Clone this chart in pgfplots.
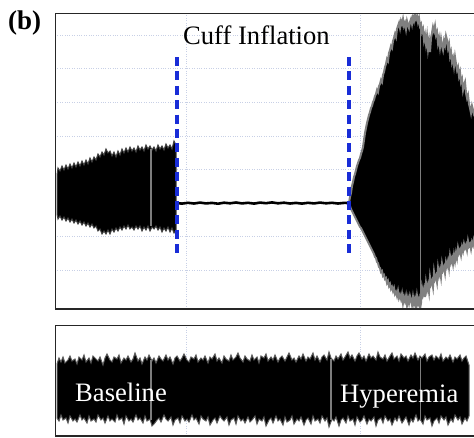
\documentclass[border=0pt]{standalone}
\usepackage{pgfplots}
\pgfplotsset{compat=1.18}
\usepackage{fontspec}
\setmainfont{Liberation Serif}
\definecolor{dashblue}{RGB}{25,45,215}
\definecolor{gridc}{RGB}{200,208,230}
\definecolor{gapc}{RGB}{125,125,125}
\begin{document}
\begin{tikzpicture}
\pgfplotsset{
  panel/.style={
    scale only axis, width=419pt, xmin=55, xmax=474, y dir=reverse,
    anchor=south west,
    axis line style={draw=none},
    xtick={186.5,360.5}, xticklabels={}, yticklabels={},
    major tick length=0pt,
    grid style={dotted, line width=0.8pt, color=gridc},
  }
}
\path[use as bounding box] (0pt,0pt) rectangle (474pt,437pt);
% ---------------- top panel ----------------
\begin{axis}[panel, at={(55pt,128pt)}, height=296pt, ymin=13, ymax=309,
  ytick={35,68.5,102,136,169.5,203,236.5,270}, grid=major]
% baseline block
\addplot[fill=black, draw=black!75, line width=1pt] coordinates {
(57,175) (58,168) (60,171) (62,166) (64,170) (66,165) (68,169) (70,164) (72,168) (74,163) (76,167) (78,162) (80,166) (82,161) (84,165) (86,160) (88,164) (90,158) (92,162) (94,157) (96,160) (98,154) (100,157) (102,152) (104,155) (106,149) (108,153) (110,151) (112,156) (114,152) (116,157) (118,151) (120,155) (122,149) (124,153) (126,148) (128,152) (130,147) (132,151) (134,148) (136,152) (138,146) (140,150) (142,147) (144,151) (146,145) (148,149) (150,146) (152,150) (154,147) (156,151) (158,145) (160,149) (162,146) (164,150) (166,144) (168,148) (170,145) (172,149) (174,141) (176,145)
(176,230) (174,233) (172,228) (170,232) (168,227) (166,231) (164,228) (162,232) (160,227) (158,230) (156,226) (154,229) (152,227) (150,231) (148,226) (146,230) (144,227) (142,231) (140,226) (138,229) (136,226) (134,230) (132,227) (130,229) (128,225) (126,229) (124,226) (122,230) (120,227) (118,231) (116,228) (114,232) (112,229) (110,234) (108,230) (106,234) (104,231) (102,234) (100,229) (98,231) (96,226) (94,228) (92,224) (90,227) (88,223) (86,226) (84,222) (82,225) (80,221) (78,224) (76,220) (74,223) (72,219) (70,222) (68,218) (66,221) (64,217) (62,220) (60,216) (58,219) (57,214)
} -- cycle;
% flat cuff inflation trace
\addplot[black, line width=2.6pt] coordinates {
(176,203) (182,203.6) (188,202.8) (194,203.5) (200,202.6) (206,203.4) (212,202.9) (218,203.7) (224,202.7) (230,203.3) (236,202.5) (242,203.4) (248,202.8) (254,203.6) (260,202.6) (266,203.2) (272,202.4) (278,203.3) (284,202.7) (290,203.5) (296,202.9) (302,203.6) (308,202.8) (314,203.4) (320,202.6) (326,203.3) (332,202.8) (338,203.5) (344,202.9) (349,203)
};
% hyperemia burst
\addplot[fill=black, draw=black!50, line width=2pt] coordinates {
(349,203) (350,197) (351,193) (352,186) (353,182) (354,177) (355,174) (356,170) (357,166) (358,163) (359,160) (360,158) (361,154) (362,151) (363,147) (364,140) (365,133) (366,128) (367,123) (368,119) (369,115) (370,112) (371,108) (372,106) (373,102) (374,100) (375,96) (376,94) (377,90) (378,92) (379,86) (380,84) (381,80) (382,82) (383,75) (384,72) (385,67) (386,64) (387,59) (388,61) (389,53) (390,50) (391,46) (392,48) (393,41) (394,38) (395,34) (396,37) (397,29) (398,26) (399,23) (400,28) (401,21) (402,24) (403,19) (404,26) (405,23) (406,29) (407,21) (408,25) (409,28) (410,22) (411,19) (412,24) (413,17) (414,21) (415,15) (416,19) (417,16) (418,22) (419,18) (420,26) (421,24) (422,32) (423,29) (424,40) (425,35) (426,44) (427,36) (428,49) (429,41) (430,52) (431,38) (432,33) (433,27) (434,31) (435,26) (436,35) (437,32) (438,43) (439,38) (440,47) (441,39) (442,46) (443,50) (444,41) (445,45) (446,36) (447,40) (448,48) (449,44) (450,56) (451,52) (452,62) (453,58) (454,66) (455,57) (456,64) (457,70) (458,67) (459,76) (460,72) (461,82) (462,79) (463,90) (464,85) (465,82) (466,93) (467,98) (468,95) (469,104) (470,108) (471,113) (472,106) (473,110) (474,115) (476,118) (480,120)
(480,241) (476,244) (474,239) (473,245) (472,242) (471,249) (470,244) (469,246) (468,241) (467,250) (466,245) (465,248) (464,244) (463,251) (462,247) (461,255) (460,250) (459,253) (458,248) (457,258) (456,253) (455,261) (454,255) (453,264) (452,258) (451,262) (450,256) (449,268) (448,261) (447,266) (446,262) (445,273) (444,267) (443,270) (442,264) (441,277) (440,270) (439,275) (438,268) (437,282) (436,276) (435,279) (434,272) (433,287) (432,281) (431,284) (430,277) (429,292) (428,285) (427,290) (426,283) (425,297) (424,289) (423,294) (422,288) (421,303) (420,309) (419,299) (418,303) (417,296) (416,306) (415,299) (414,304) (413,297) (412,305) (411,300) (410,296) (409,303) (408,298) (407,305) (406,296) (405,301) (404,297) (403,303) (402,294) (401,299) (400,295) (399,298) (398,291) (397,296) (396,292) (395,294) (394,288) (393,291) (392,287) (391,289) (390,284) (389,286) (388,281) (387,283) (386,278) (385,279) (384,275) (383,276) (382,271) (381,272) (380,268) (379,267) (378,263) (377,262) (376,258) (375,257) (374,254) (373,252) (372,250) (371,248) (370,246) (369,244) (368,242) (367,240) (366,238) (365,236) (364,234) (363,232) (362,230) (361,228) (360,227) (359,225) (358,223) (357,221) (356,219) (355,217) (354,215) (353,213) (352,211) (351,209) (350,206) (349,203)
} -- cycle;
% gaps in the recording
\addplot[gapc, line width=1.2pt] coordinates {(151,149) (151,226)};
\addplot[gapc, line width=1.2pt] coordinates {(420.5,24) (420.5,304)};
% dashed markers
\addplot[dashblue, line width=4pt, dash pattern=on 9pt off 5.4pt] coordinates {(176.5,57) (176.5,253)};
\addplot[dashblue, line width=4pt, dash pattern=on 9pt off 5.4pt] coordinates {(349,57) (349,254)};
\draw[line width=2pt, black!85] (rel axis cs:1.01,0) -- (rel axis cs:0,0) -- (rel axis cs:0,1) -- (rel axis cs:1.01,1);
\end{axis}
% ---------------- bottom panel ----------------
\begin{axis}[panel, at={(55pt,1pt)}, height=111pt, ymin=325, ymax=436,
  ytick=\empty, xmajorgrids]
\addplot[fill=black, draw=black!65, line width=1pt] coordinates {
(57,364) (59,358) (61,362) (63,357) (65,363) (68,360) (70,356) (72,361) (75,359) (77,364) (79,357) (82,360) (84,355) (86,362) (89,358) (91,363) (93,356) (96,359) (98,361) (100,357) (103,365) (105,358) (107,354) (110,360) (112,362) (114,357) (117,359) (119,355) (121,363) (124,358) (126,360) (128,356) (131,362) (133,359) (135,353) (138,361) (140,358) (142,364) (145,357) (147,360) (149,355) (152,361) (154,358) (156,363) (159,356) (161,359) (163,361) (166,355) (168,360) (170,357) (173,364) (175,358) (177,356) (180,361) (182,358) (184,354) (187,360) (189,362) (191,357) (194,359) (196,355) (198,362) (201,358) (203,360) (205,356) (208,363) (210,357) (212,359) (215,354) (217,361) (219,358) (222,363) (224,356) (226,359) (229,361) (231,355) (233,360) (236,357) (238,353) (240,358) (243,362) (245,356) (247,359) (250,361) (252,355) (254,360) (257,357) (259,363) (261,356) (264,358) (266,354) (268,361) (271,357) (273,360) (275,355) (278,362) (280,358) (282,356) (285,361) (287,357) (289,353) (292,360) (294,358) (296,362) (299,356) (301,359) (303,354) (306,361) (308,357) (310,359) (313,353) (315,360) (317,356) (320,362) (322,357) (324,355) (327,360) (329,352) (331,358) (334,361) (336,356) (338,359) (341,354) (343,360) (345,357) (348,352) (350,358) (352,355) (355,361) (357,356) (359,353) (362,359) (364,356) (366,361) (369,354) (371,358) (373,356) (376,360) (378,352) (380,357) (383,359) (385,355) (387,361) (390,356) (392,353) (394,359) (397,356) (399,361) (401,354) (404,358) (406,356) (408,361) (411,355) (413,358) (415,353) (418,360) (420,356) (422,358) (425,354) (427,361) (429,357) (432,355) (434,360) (436,356) (439,359) (441,354) (443,361) (446,357) (448,359) (450,355) (453,362) (455,357) (457,359) (460,355) (462,361) (464,358) (466,356) (468,362) (469,365)
(469,416) (467,421) (465,418) (462,424) (460,417) (458,420) (455,415) (453,422) (451,419) (448,425) (446,417) (444,420) (441,416) (439,423) (437,418) (434,421) (432,426) (430,418) (427,420) (425,416) (423,424) (420,419) (418,421) (416,415) (413,422) (411,419) (409,425) (406,417) (404,420) (402,423) (399,416) (397,421) (395,418) (392,425) (390,419) (388,421) (385,416) (383,423) (381,418) (378,420) (376,426) (374,417) (371,421) (369,419) (367,424) (364,416) (362,420) (360,422) (357,417) (355,425) (353,419) (350,421) (348,416) (346,423) (343,418) (341,420) (339,426) (336,417) (334,421) (332,419) (329,427) (327,418) (325,421) (322,416) (320,423) (318,419) (315,421) (313,416) (311,424) (308,418) (306,420) (304,425) (301,417) (299,421) (297,419) (294,424) (292,416) (290,420) (287,422) (285,417) (283,425) (280,419) (278,421) (276,416) (273,423) (271,418) (269,420) (266,426) (264,417) (262,421) (259,419) (257,424) (255,416) (252,420) (250,422) (248,417) (245,423) (243,419) (241,421) (238,416) (236,424) (234,418) (231,420) (229,425) (227,417) (224,421) (222,419) (220,416) (217,423) (215,418) (213,420) (210,425) (208,417) (206,421) (203,419) (201,416) (199,424) (196,418) (194,420) (192,415) (189,422) (187,419) (185,421) (182,416) (180,423) (178,418) (175,420) (173,425) (171,417) (168,421) (166,419) (164,415) (161,422) (159,418) (157,420) (154,424) (152,426) (150,419) (147,421) (145,416) (143,423) (140,418) (138,420) (136,415) (133,422) (131,419) (129,421) (126,416) (124,424) (122,418) (119,420) (117,415) (115,422) (112,419) (110,421) (108,416) (105,423) (103,418) (101,420) (98,415) (96,422) (94,419) (91,421) (89,416) (87,423) (84,418) (82,420) (80,415) (77,422) (75,419) (73,421) (70,416) (68,423) (66,418) (63,420) (61,415) (59,421) (57,418)
} -- cycle;
\addplot[gapc, line width=1.2pt] coordinates {(151,360) (151,420)};
\addplot[gapc, line width=1.2pt] coordinates {(331,359) (331,420)};
\addplot[gapc, line width=1.2pt] coordinates {(420.5,358) (420.5,420)};
\draw[line width=2pt, black!85] (rel axis cs:1.01,0) -- (rel axis cs:0,0) -- (rel axis cs:0,1) -- (rel axis cs:1.01,1);
\end{axis}
% ---------------- texts ----------------
\node[anchor=base west, inner sep=0pt, font=\fontsize{27}{30}\selectfont\bfseries] at (8pt,407pt) {(b)};
\node[anchor=base west, inner sep=0pt, font=\fontsize{26.6}{30}\selectfont] at (183pt,392pt) {Cuff Inflation};
\node[anchor=base west, inner sep=0pt, text=white, font=\fontsize{26.6}{30}\selectfont] at (75pt,36pt) {Baseline};
\node[anchor=base west, inner sep=0pt, text=white, font=\fontsize{26.6}{30}\selectfont] at (340pt,35pt) {Hyperemia};
\end{tikzpicture}
\end{document}
